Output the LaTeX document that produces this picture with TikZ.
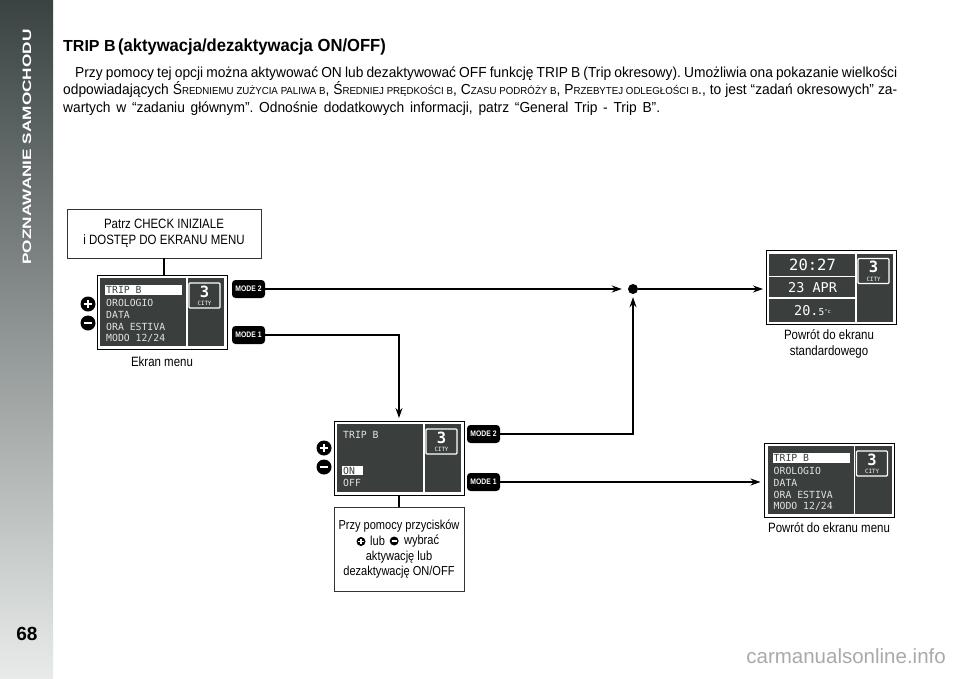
\documentclass[tikz,border=0pt]{standalone}
\usepackage{fontspec}
\setmainfont{Liberation Sans}[FakeStretch=0.85]
\newfontfamily\bodyfont{Liberation Sans}[FakeStretch=0.95]
\newfontfamily\wide{Liberation Sans}
\newfontfamily\lcd{DejaVu Sans Mono}
\usetikzlibrary{arrows.meta}
\definecolor{lcdbg}{HTML}{3A3E3D}
\definecolor{lcdfg}{HTML}{E2E2E2}
\definecolor{sbtop}{HTML}{3A4242}
\definecolor{sbmid}{HTML}{9EADA9}
\definecolor{sbbot}{HTML}{E8EBEA}
\definecolor{wmcol}{HTML}{A9A9A9}
\newcommand\setfs[1]{\fontsize{#1}{#1}\selectfont}
\newcommand\scx[2]{#1{\fontsize{10.2}{12}\selectfont #2}}
\frenchspacing
\tikzset{
  screen/.style={draw=black, line width=0.8pt, fill=white, minimum width=130pt, minimum height=74pt, inner sep=0pt, outer sep=0pt},
  modebtn/.style={fill=black, rounded corners=3.5pt, minimum width=33pt, minimum height=18pt, inner sep=0pt, text=white, font=\setfs{8}\bfseries},
  pmbtn/.style={circle, fill=black, minimum size=15pt, inner sep=0pt},
  pmsmall/.style={circle, fill=black, minimum size=9pt, inner sep=0pt},
  pmbar/.style={white, line width=2.2pt},
  pmbarsmall/.style={white, line width=1.3pt},
  lbl/.style={font=\setfs{13.5}, align=center, inner sep=0pt},
  infobox/.style={draw=black!80, line width=0.8pt, fill=white, inner sep=0pt, align=center},
  conn/.style={line width=1.4pt},
  arr/.style={conn, -{Stealth[length=10pt,width=7pt]}},
  lcdtxt/.style={text=lcdfg, font=\lcd\setfs{9.8}, inner sep=0pt, anchor=west},
  lcdcity/.style={text=white, inner sep=0pt},
  sep/.style={white, line width=1.2pt}
}
\newcommand\lcdbase[1]{%
  \fill[lcdbg] (3,3) rectangle (127,71);
  \draw[sep] (90,3) -- (90,71);
  \draw[sep, rounded corners=1pt] (92,8) rectangle (123,33);
  \node[lcdcity, font=\lcd\bfseries\setfs{15.5}] (#1-three) at (107.5,16.5) {3};
  \node[lcdcity, font=\lcd\setfs{5.8}] (#1-city) at (107.5,28.5) {CITY};
}
\newcommand\lcdmenu[1]{%
  \fill[white] (8,10) rectangle (85,19.5);
  \node[lcdtxt, text=lcdbg] (#1-r1) at (9,15) {TRIP B};
  \node[lcdtxt] (#1-r2) at (9,27.5) {OROLOGIO};
  \node[lcdtxt] (#1-r3) at (9,39.5) {DATA};
  \node[lcdtxt] (#1-r4) at (9,51.5) {ORA ESTIVA};
  \node[lcdtxt] (#1-r5) at (9,63.5) {MODO 12/24};
}
\begin{document}
\begin{tikzpicture}[x=1pt,y=-1pt]
\useasboundingbox (0,0) rectangle (960,678);
% sidebar
\shade[top color=sbtop, middle color=sbmid, bottom color=sbbot] (0,0) rectangle (53,678);
\node[rotate=90, text=white, inner sep=0pt] (side) at (27,147) {\resizebox{235pt}{8.5pt}{\wide\bfseries POZNAWANIE SAMOCHODU}};
\node[inner sep=0pt, font=\wide\bfseries\setfs{19}] (pageno) at (27,634) {68};
% watermark
\node[anchor=east, inner sep=0pt, text=wmcol, font=\wide\setfs{20.5}] (wm) at (946,656) {carmanualsonline.info};
% title and text
\node[anchor=base west, inner sep=0pt] (title) at (63,51) {{\wide\bfseries\setfs{16}TRIP B} {\bodyfont\bfseries\setfs{17.5}(aktywacja/dezaktywacja ON/OFF)}};
\node[anchor=base west, inner sep=0pt, font=\bodyfont\setfs{14.5}] (l1) at (75,77) {\makebox[822pt][s]{Przy pomocy tej opcji można aktywować ON lub dezaktywować OFF funkcję TRIP B (Trip okresowy). Umożliwia ona pokazanie wielkości}};
\node[anchor=base west, inner sep=0pt, font=\bodyfont\setfs{14.5}] (l2) at (63,94.5) {\makebox[834pt][s]{odpowiadających \scx{Ś}{REDNIEMU ZUŻYCIA PALIWA B}, \scx{Ś}{REDNIEJ PRĘDKOŚCI B}, \scx{C}{ZASU PODRÓŻY B}, \scx{P}{RZEBYTEJ ODLEGŁOŚCI B}., to jest “zadań okresowych” za-}};
\node[anchor=base west, inner sep=0pt, font=\bodyfont\setfs{14.5}] (l3) at (63,112) {\makebox[597pt][s]{wartych w “zadaniu głównym”. Odnośnie dodatkowych informacji, patrz “General Trip - Trip B”.}};
% info box top
\node[infobox, minimum width=194pt, minimum height=49pt, font=\setfs{13.5}] (b1) at (164,233.5) {Patrz CHECK INIZIALE\\[2.5pt]i DOSTĘP DO EKRANU MENU};
% screen 1 (menu)
\node[screen] (s1) at (162,312) {};
\begin{scope}[shift={(s1.north west)}]
  \lcdbase{s1}\lcdmenu{s1}
\end{scope}
\node[lbl] (s1lbl) at (162,362) {Ekran menu};
\node[pmbtn] (p1) at (88,304) {};
\draw[pmbar] (p1.center) +(-4.2,0) -- +(4.2,0) (p1.center) +(0,-4.2) -- +(0,4.2);
\node[pmbtn] (n1) at (88,323) {};
\draw[pmbar] (n1.center) +(-4.2,0) -- +(4.2,0);
\node[modebtn] (m2a) at (248.5,289) {MODE 2};
\node[modebtn] (m1a) at (248.5,335) {MODE 1};
% junction dot
\node[circle, fill=black, minimum size=10pt, inner sep=0pt] (dot) at (633,289) {};
% standard screen
\node[screen] (s3) at (831,287.5) {};
\begin{scope}[shift={(s3.north west)}]
  \lcdbase{s3}
  \draw[sep] (3,26) -- (90,26) (3,47.5) -- (90,47.5);
  \node[lcdcity, font=\lcd\setfs{15.5}] (s3-time) at (46.5,14.5) {20:27};
  \node[lcdcity, font=\lcd\setfs{13.5}] (s3-date) at (46.5,37) {23 APR};
  \node[lcdcity, font=\lcd\setfs{13.5}] (s3-temp) at (46.5,60) {20.{\setfs{9.5}5}{\setfs{5.5}\raisebox{2pt}{°c}}};
\end{scope}
\node[lbl] (s3lbl) at (829,344) {Powrót do ekranu\\[2.5pt]standardowego};
% screen 2 (TRIP B ON/OFF)
\node[screen] (s2) at (399,458) {};
\begin{scope}[shift={(s2.north west)}]
  \lcdbase{s2}
  \node[lcdtxt] (s2-t) at (9,14) {TRIP B};
  \fill[white] (8,45) rectangle (29,54);
  \node[lcdtxt, text=lcdbg] (s2-on) at (9,49.5) {ON};
  \node[lcdtxt] (s2-off) at (9,62) {OFF};
\end{scope}
\node[pmbtn] (p2) at (324,448) {};
\draw[pmbar] (p2.center) +(-4.2,0) -- +(4.2,0) (p2.center) +(0,-4.2) -- +(0,4.2);
\node[pmbtn] (n2) at (324,467) {};
\draw[pmbar] (n2.center) +(-4.2,0) -- +(4.2,0);
\node[modebtn] (m2b) at (483.5,434) {MODE 2};
\node[modebtn] (m1b) at (483.5,482) {MODE 1};
\node[infobox, minimum width=130pt, minimum height=84pt, font=\setfs{13}] (b2) at (399,549) {Przy pomocy przycisków\\[2pt]\strut\\[2pt]aktywację lub\\[2pt]dezaktywację ON/OFF};
% second line of box 2 with icons
\node[pmsmall] (pp) at (361,541.5) {};
\draw[pmbarsmall] (pp.center) +(-2.6,0) -- +(2.6,0) (pp.center) +(0,-2.6) -- +(0,2.6);
\node[anchor=west, inner sep=0pt, font=\setfs{13}] (lub) at (370,541) {lub};
\node[pmsmall] (pm) at ([xshift=9pt]lub.east) {};
\draw[pmbarsmall] (pm.center) +(-2.6,0) -- +(2.6,0);
\node[anchor=west, inner sep=0pt, font=\setfs{13}] (wyb) at ([xshift=5pt]pm.east) {wybrać};
% screen 4 (menu again)
\node[screen] (s4) at (829.5,480) {};
\begin{scope}[shift={(s4.north west)}]
  \lcdbase{s4}\lcdmenu{s4}
\end{scope}
\node[lbl] (s4lbl) at (829,528) {Powrót do ekranu menu};
% connectors
\draw[conn] (b1.south) -- (b1.south |- s1.north);
\draw[conn] (s2.south) -- (b2.north);
\draw[arr, shorten >=6pt] (m2a.east) -- (dot.west);
\draw[arr, shorten >=3pt] (dot.east) -- (dot.east -| s3.west);
\draw[arr, shorten >=3pt] (m1a.east) -| (s2.north);
\draw[arr, shorten >=3pt] (m2b.east) -| (dot.south);
\draw[arr, shorten >=4pt] (m1b.east) -- (m1b.east -| s4.west);
\end{tikzpicture}
\end{document}
